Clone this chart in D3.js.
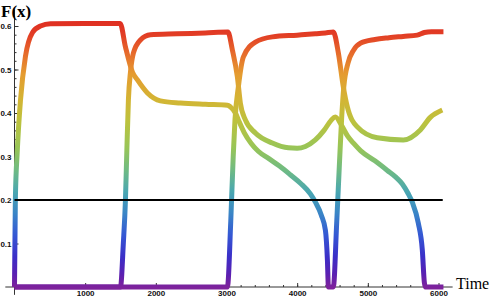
<!DOCTYPE html>
<html>
<head>
<meta charset="utf-8">
<script src="https://cdn.jsdelivr.net/npm/d3@7"></script>
<style>
  body { margin: 0; background: #fff; }
  svg { display: block; }
</style>
</head>
<body>
<svg id="chart"></svg>
<script>
//constants
const W = 490, H = 298;

//data: three species, time vs F(x)
const timeA = [0, 12, 40, 85, 155, 255, 368, 510, 1000, 1495, 1570, 1669, 1740, 1881, 2065, 2348, 2700, 3013, 3055, 3126, 3168, 3250, 3350, 3450, 3600, 3750, 3904, 4050, 4187, 4258, 4342, 4400, 4428, 4442, 4512, 4560, 4600, 4630, 4660, 4720, 4800, 4900, 5100, 5300, 5500, 5700, 5800, 5900, 6070];
const valueA = [0, 0.2, 0.315, 0.43, 0.53, 0.585, 0.6, 0.605, 0.606, 0.606, 0.552, 0.494, 0.476, 0.446, 0.428, 0.423, 0.42, 0.418, 0.414, 0.4, 0.384, 0.355, 0.33, 0.312, 0.295, 0.278, 0.258, 0.238, 0.214, 0.195, 0.165, 0.13, 0.062, 0, 0, 0.15, 0.29, 0.39, 0.46, 0.515, 0.545, 0.561, 0.569, 0.573, 0.576, 0.579, 0.585, 0.587, 0.587];

const timeB = [0, 1500, 1540, 1570, 1590, 1612, 1641, 1683, 1782, 1924, 2300, 2700, 3020, 3083, 3154, 3196, 3267, 3409, 3649, 3876, 4000, 4116, 4257, 4380, 4480, 4540, 4640, 4710, 4800, 4900, 5100, 5276, 5400, 5488, 5570, 5629, 5714, 5771, 5800, 5815, 6070];
const valueB = [0, 0, 0.1, 0.2, 0.315, 0.43, 0.494, 0.538, 0.568, 0.58, 0.582, 0.584, 0.586, 0.545, 0.483, 0.423, 0.384, 0.354, 0.331, 0.32, 0.319, 0.323, 0.338, 0.36, 0.383, 0.391, 0.368, 0.348, 0.33, 0.313, 0.29, 0.268, 0.252, 0.237, 0.215, 0.195, 0.147, 0.085, 0.01, 0, 0];

const timeC = [0, 3013, 3060, 3095, 3120, 3168, 3239, 3409, 3649, 4000, 4257, 4400, 4512, 4583, 4653, 4710, 4851, 5134, 5502, 5743, 5884, 6054];
const valueC = [0, 0, 0.15, 0.3, 0.384, 0.46, 0.529, 0.563, 0.575, 0.579, 0.582, 0.584, 0.586, 0.538, 0.46, 0.414, 0.368, 0.343, 0.338, 0.361, 0.39, 0.407];

const threshold = 0.2;
const xTicks = [1000, 2000, 3000, 4000, 5000, 6000];
const yTicks = [0.1, 0.2, 0.3, 0.4, 0.5, 0.6];

//colour by value
const colorStops = [
    [0.0, "#7d229c"], [0.03, "#5a20b2"], [0.07, "#3b2fc8"], [0.12, "#3558d4"],
    [0.17, "#3a86c6"], [0.22, "#4aa7b0"], [0.27, "#70bb82"], [0.32, "#98c557"],
    [0.38, "#bcc23e"], [0.43, "#d3b534"], [0.49, "#e59b30"], [0.54, "#e6682b"],
    [0.58, "#e23d25"], [0.62, "#de2a20"]
];

function main() {
    let xScale = d3.scaleLinear().domain([0, 6000]).range([14.5, 438.5]);
    let yScale = d3.scaleLinear().domain([0, 0.6]).range([287, 26]);

    let svg = d3.select("#chart")
        .attr("width", W)
        .attr("height", H);

    //gradient for the curves
    let grad = svg.append("defs").append("linearGradient")
        .attr("id", "rainbow")
        .attr("gradientUnits", "userSpaceOnUse")
        .attr("x1", 0).attr("x2", 0)
        .attr("y1", yScale(0)).attr("y2", yScale(0.62));
    grad.selectAll("stop")
        .data(colorStops)
        .join("stop")
        .attr("offset", d => d[0] / 0.62)
        .attr("stop-color", d => d[1]);

    //axes lines
    svg.append("line")
        .attr("x1", xScale(-130)).attr("x2", xScale(6200))
        .attr("y1", yScale(0)).attr("y2", yScale(0))
        .attr("stroke", "#333").attr("stroke-width", 1);
    svg.append("line")
        .attr("x1", xScale(0)).attr("x2", xScale(0))
        .attr("y1", yScale(-0.018)).attr("y2", yScale(0.638))
        .attr("stroke", "#333").attr("stroke-width", 1);

    //minor ticks
    let xMinor = d3.axisBottom(xScale)
        .tickValues(d3.range(200, 6001, 200))
        .tickSize(-2).tickFormat("");
    let yMinor = d3.axisLeft(yScale)
        .tickValues(d3.range(1, 31).map(i => i * 0.02))
        .tickSize(-2).tickFormat("");

    //major ticks
    let xAxis = d3.axisBottom(xScale)
        .tickValues(xTicks)
        .tickSize(-4).tickPadding(3)
        .tickFormat(d3.format("d"));
    let yAxis = d3.axisLeft(yScale)
        .tickValues(yTicks)
        .tickSize(-4).tickPadding(3)
        .tickFormat(d3.format(".1f"));

    [xMinor, xAxis].forEach(ax => {
        svg.append("g")
            .attr("transform", "translate(0," + yScale(0) + ")")
            .call(ax)
            .call(g => g.select(".domain").remove());
    });
    [yMinor, yAxis].forEach(ax => {
        svg.append("g")
            .attr("transform", "translate(" + xScale(0) + ",0)")
            .call(ax)
            .call(g => g.select(".domain").remove());
    });
    svg.selectAll(".tick line").attr("stroke", "#333");
    svg.selectAll(".tick text")
        .style("font-family", "Arial, 'Liberation Sans', sans-serif")
        .style("font-size", "8px")
        .style("font-weight", "bold")
        .attr("fill", "#111");

    //curves
    let line = d3.line()
        .x(d => xScale(d[0]))
        .y(d => yScale(d[1]))
        .curve(d3.curveMonotoneX);

    let series = [
        d3.zip(timeA, valueA),
        d3.zip(timeB, valueB),
        d3.zip(timeC, valueC)
    ];

    svg.selectAll("path.curve")
        .data(series)
        .join("path")
        .attr("class", "curve")
        .attr("fill", "none")
        .attr("stroke", "url(#rainbow)")
        .attr("stroke-width", 5)
        .attr("stroke-linejoin", "round")
        .attr("d", line);

    //threshold line
    svg.append("line")
        .attr("x1", xScale(0)).attr("x2", xScale(6060))
        .attr("y1", yScale(threshold)).attr("y2", yScale(threshold))
        .attr("stroke", "#000").attr("stroke-width", 2);

    //labels
    svg.append("text")
        .attr("x", 1).attr("y", 17)
        .style("font-family", "'Liberation Serif', 'DejaVu Serif', serif")
        .style("font-size", "17px")
        .style("font-weight", "bold")
        .text("F(x)");

    svg.append("text")
        .attr("x", 456).attr("y", 289)
        .style("font-family", "'Liberation Serif', 'DejaVu Serif', serif")
        .style("font-size", "16px")
        .text("Time");
}

main();
</script>
</body>
</html>
